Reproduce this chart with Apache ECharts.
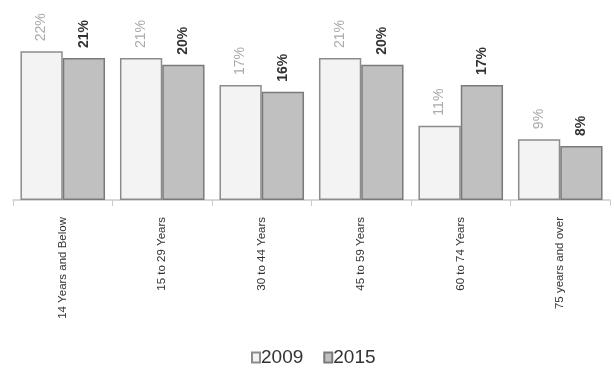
<!DOCTYPE html>
<html>
<head>
<meta charset="utf-8">
<script src="https://cdn.jsdelivr.net/npm/echarts@6/dist/echarts.min.js"></script>
<style>
  html, body { margin: 0; padding: 0; background: #fff; }
  #main { width: 614px; height: 376px; }
</style>
</head>
<body>
<div id="main"></div>
<script>
// age groups and shares (%)
var categories = ['14 Years and Below', '15 to 29 Years', '30 to 44 Years', '45 to 59 Years', '60 to 74 Years', '75 years and over'];
var values2009 = [22, 21, 17, 21, 11, 9];
var values2015 = [21, 20, 16, 20, 17, 8];
var seriesNames = ['2009', '2015'];

var font = '"Liberation Sans", Arial, sans-serif';

var myChart = echarts.init(document.getElementById('main'));

var option = {
    animation: false,
    backgroundColor: '#fff',
    textStyle: { fontFamily: font },
    grid: { left: 13, right: 4, top: 31, bottom: 176 },
    legend: {
        data: seriesNames,
        icon: 'rect',
        left: 246,
        top: 343,
        itemWidth: 8,
        itemHeight: 10,
        itemGap: 20,
        textStyle: { fontSize: 19, color: '#333', fontFamily: font, padding: [0, 0, 0, -4] }
    },
    xAxis: {
        type: 'category',
        data: categories,
        axisLine: { lineStyle: { color: '#cccccc', width: 1.5 } },
        axisTick: { show: true, length: 6, lineStyle: { color: '#cccccc' } },
        axisLabel: {
            rotate: 90,
            margin: 17,
            fontSize: 11.5,
            color: '#333',
            fontFamily: font
        }
    },
    yAxis: {
        type: 'value',
        min: 0,
        max: 25,
        show: false,
        splitLine: { show: false }
    },
    series: [
        {
            name: seriesNames[0],
            type: 'bar',
            data: values2009,
            barGap: '0%',
            barCategoryGap: '15%',
            itemStyle: { color: '#f3f3f3', borderColor: '#8c8c8c', borderWidth: 1.5 },
            label: {
                show: true,
                position: 'top',
                rotate: 90,
                align: 'left',
                verticalAlign: 'middle',
                distance: 10,
                fontSize: 14,
                color: '#aaaaaa',
                fontFamily: font,
                formatter: '{c}%'
            }
        },
        {
            name: seriesNames[1],
            type: 'bar',
            data: values2015,
            itemStyle: { color: '#c0c0c0', borderColor: '#7a7a7a', borderWidth: 1.5 },
            label: {
                show: true,
                position: 'top',
                rotate: 90,
                align: 'left',
                verticalAlign: 'middle',
                distance: 10,
                fontSize: 14,
                fontWeight: 'bold',
                color: '#333',
                fontFamily: font,
                formatter: '{c}%'
            }
        }
    ]
};

myChart.setOption(option);
</script>
</body>
</html>
